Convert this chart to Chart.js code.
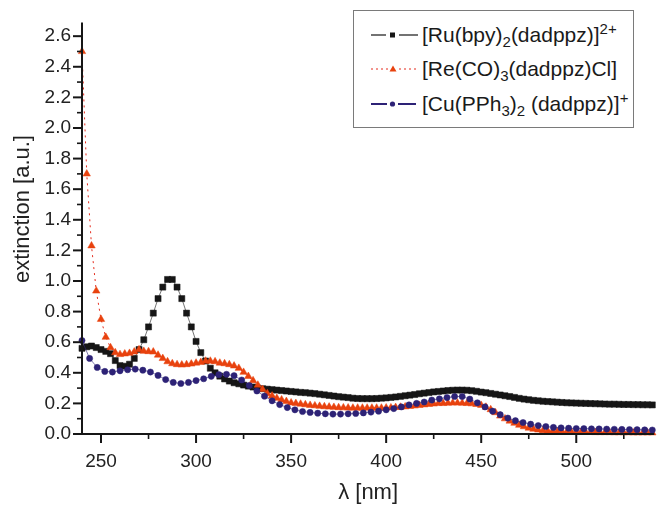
<!DOCTYPE html>
<html>
<head>
<meta charset="utf-8">
<title>extinction spectra</title>
<script src="https://cdn.jsdelivr.net/npm/chart.js@4.4.0/dist/chart.umd.min.js"></script>
<style>
    body { margin: 0; background: #fff; }
    #wrap { position: relative; width: 659px; height: 506px; }
    #legend {
        position: absolute; left: 353px; top: 10px; width: 279px; height: 116px;
        border: 1px solid #7a7a7a; background: #fff;
        font-family: "Liberation Sans", Arial, sans-serif; font-size: 21px; color: #1a1a1a;
    }
    .row { position: absolute; left: 0; width: 100%; height: 30px; }
    .row svg { position: absolute; left: 12px; top: 0; }
    .row .lbl { position: absolute; left: 68px; top: 0; line-height: 30px; white-space: nowrap; }
    sub, sup { font-size: 15px; line-height: 0; }
</style>
</head>
<body>
<div id="wrap">
    <canvas id="chart" width="659" height="506"></canvas>
    <div id="legend">
        <div class="row" style="top:9px">
            <svg width="56" height="30"><line x1="5" y1="15" x2="20" y2="15" stroke="#161616" stroke-width="1.2"/><line x1="33" y1="15" x2="52" y2="15" stroke="#161616" stroke-width="1.2"/><rect x="24" y="12.5" width="5" height="5" fill="#161616"/></svg>
            <span class="lbl">[Ru(bpy)<sub>2</sub>(dadppz)]<sup>2+</sup></span>
        </div>
        <div class="row" style="top:43px">
            <svg width="56" height="30"><line x1="5" y1="15" x2="22" y2="15" stroke="#e52b1c" stroke-width="1.2" stroke-dasharray="2,3"/><line x1="33" y1="15" x2="52" y2="15" stroke="#e52b1c" stroke-width="1.2" stroke-dasharray="2,3"/><polygon points="27,11.5 30.5,17.5 23.5,17.5" fill="#e8420e"/></svg>
            <span class="lbl">[Re(CO)<sub>3</sub>(dadppz)Cl]</span>
        </div>
        <div class="row" style="top:78px">
            <svg width="56" height="30"><line x1="5" y1="15" x2="21" y2="15" stroke="#2d2276" stroke-width="2"/><line x1="32" y1="15" x2="50" y2="15" stroke="#2d2276" stroke-width="2"/><circle cx="26.5" cy="15" r="2.6" fill="#2d2276"/></svg>
            <span class="lbl">[Cu(PPh<sub>3</sub>)<sub>2</sub> (dadppz)]<sup>+</sup></span>
        </div>
    </div>
</div>
<script>
// wavelength grid of the Ru and Re spectra (nm)
const lambdaFine = [240, 242.5, 245, 247.5, 250, 252.5, 255, 257.5, 260, 262.5,
    265, 267.5, 270, 272.5, 275, 277.5, 280, 282.5, 285, 287.5,
    290, 292.5, 295, 297.5, 300, 302.5, 305, 307.5, 310, 312.5,
    315, 317.5, 320, 322.5, 325, 327.5, 330, 332.5, 335, 337.5,
    340, 342.5, 345, 347.5, 350, 352.5, 355, 357.5, 360, 362.5,
    365, 367.5, 370, 372.5, 375, 377.5, 380, 382.5, 385, 387.5,
    390, 392.5, 395, 397.5, 400, 402.5, 405, 407.5, 410, 412.5,
    415, 417.5, 420, 422.5, 425, 427.5, 430, 432.5, 435, 437.5,
    440, 442.5, 445, 447.5, 450, 452.5, 455, 457.5, 460, 462.5,
    465, 467.5, 470, 472.5, 475, 477.5, 480, 482.5, 485, 487.5,
    490, 492.5, 495, 497.5, 500, 502.5, 505, 507.5, 510, 512.5,
    515, 517.5, 520, 522.5, 525, 527.5, 530, 532.5, 535, 537.5, 540];

const ruValues = [0.56, 0.57, 0.575, 0.565, 0.552, 0.54, 0.525, 0.48, 0.447, 0.443,
    0.456, 0.494, 0.552, 0.616, 0.70, 0.79, 0.885, 0.96, 1.01, 1.01,
    0.96, 0.885, 0.79, 0.70, 0.605, 0.532, 0.477, 0.43, 0.40, 0.378,
    0.36, 0.346, 0.335, 0.328, 0.32, 0.313, 0.307, 0.30, 0.296, 0.293,
    0.29, 0.287, 0.284, 0.281, 0.278, 0.275, 0.272, 0.27, 0.267, 0.264,
    0.26, 0.256, 0.252, 0.248, 0.244, 0.241, 0.238, 0.234, 0.232, 0.231,
    0.231, 0.231, 0.232, 0.234, 0.236, 0.239, 0.242, 0.246, 0.25, 0.254,
    0.258, 0.263, 0.267, 0.271, 0.275, 0.278, 0.281, 0.284, 0.286, 0.287,
    0.287, 0.286, 0.283, 0.279, 0.274, 0.27, 0.265, 0.26, 0.255, 0.25,
    0.245, 0.239, 0.233, 0.228, 0.224, 0.22, 0.217, 0.214, 0.212, 0.21,
    0.208, 0.206, 0.204, 0.203, 0.202, 0.201, 0.2, 0.199, 0.198, 0.197,
    0.196, 0.195, 0.195, 0.194, 0.193, 0.193, 0.192, 0.192, 0.191, 0.191, 0.19];

const reValues = [2.50, 1.70, 1.23, 0.935, 0.75, 0.633, 0.565, 0.532, 0.52, 0.524,
    0.528, 0.537, 0.552, 0.541, 0.539, 0.537, 0.516, 0.494, 0.473, 0.46,
    0.454, 0.452, 0.454, 0.458, 0.464, 0.468, 0.477, 0.477, 0.473, 0.464,
    0.46, 0.454, 0.445, 0.43, 0.404, 0.377, 0.349, 0.32, 0.292, 0.264,
    0.249, 0.234, 0.224, 0.213, 0.204, 0.2, 0.196, 0.192, 0.188, 0.185,
    0.182, 0.179, 0.177, 0.175, 0.173, 0.172, 0.171, 0.17, 0.17, 0.17,
    0.17, 0.17, 0.17, 0.17, 0.171, 0.172, 0.174, 0.176, 0.178, 0.181,
    0.184, 0.188, 0.191, 0.194, 0.197, 0.2, 0.2, 0.202, 0.203, 0.203,
    0.202, 0.2, 0.198, 0.194, 0.188, 0.176, 0.16, 0.14, 0.118, 0.1,
    0.085, 0.071, 0.058, 0.048, 0.039, 0.032, 0.027, 0.023, 0.02, 0.018,
    0.016, 0.015, 0.014, 0.013, 0.012, 0.012, 0.011, 0.011, 0.01, 0.01,
    0.01, 0.01, 0.009, 0.009, 0.009, 0.009, 0.008, 0.008, 0.008, 0.008, 0.008];

// Cu spectrum is sampled every 4 nm
const lambdaCu = [240, 244, 248, 252, 256, 260, 264, 268, 272, 276,
    280, 284, 288, 292, 296, 300, 304, 308, 312, 316,
    320, 324, 328, 332, 336, 340, 344, 348, 352, 356,
    360, 364, 368, 372, 376, 380, 384, 388, 392, 396,
    400, 404, 408, 412, 416, 420, 424, 428, 432, 436,
    440, 444, 448, 452, 456, 460, 464, 468, 472, 476,
    480, 484, 488, 492, 496, 500, 504, 508, 512, 516,
    520, 524, 528, 532, 536, 540];

const cuValues = [0.611, 0.494, 0.435, 0.409, 0.405, 0.413, 0.42, 0.424, 0.417, 0.405,
    0.383, 0.356, 0.337, 0.33, 0.337, 0.349, 0.361, 0.377, 0.388, 0.39,
    0.381, 0.353, 0.317, 0.281, 0.247, 0.217, 0.192, 0.173, 0.158, 0.147,
    0.141, 0.136, 0.132, 0.13, 0.13, 0.132, 0.134, 0.138, 0.143, 0.149,
    0.158, 0.166, 0.177, 0.19, 0.2, 0.209, 0.222, 0.23, 0.238, 0.245,
    0.245, 0.228, 0.204, 0.177, 0.149, 0.126, 0.104, 0.087, 0.075, 0.064,
    0.055, 0.049, 0.043, 0.04, 0.038, 0.036, 0.035, 0.034, 0.033, 0.032,
    0.031, 0.03, 0.029, 0.028, 0.027, 0.026];

const xTicks = [250, 275, 300, 325, 350, 375, 400, 425, 450, 475, 500, 525];
const yTicks = [0, 0.1, 0.2, 0.3, 0.4, 0.5, 0.6, 0.7, 0.8, 0.9, 1.0, 1.1, 1.2, 1.3,
    1.4, 1.5, 1.6, 1.7, 1.8, 1.9, 2.0, 2.1, 2.2, 2.3, 2.4, 2.5, 2.6];

const yTitle = 'extinction [a.u.]';

const AXIS_COLOR = '#161616';
const FONT = "'Liberation Sans', Arial, sans-serif";

function toPoints(xs, ys) {
    return xs.map((x, i) => ({ x: x, y: ys[i] }));
}

// axis lines, outward major / minor tick marks and the y title
const axisPlugin = {
    id: 'axisPlugin',
    afterDraw(chart) {
        const ctx = chart.ctx;
        const area = chart.chartArea;
        const xs = chart.scales.x;
        const ys = chart.scales.y;
        ctx.save();
        ctx.strokeStyle = AXIS_COLOR;
        xTicks.forEach(v => {
            const px = xs.getPixelForValue(v);
            const major = v % 50 === 0;
            ctx.lineWidth = major ? 2 : 1.6;
            ctx.beginPath();
            ctx.moveTo(px, area.bottom);
            ctx.lineTo(px, area.bottom + (major ? 9 : 5));
            ctx.stroke();
        });
        yTicks.forEach(v => {
            const py = ys.getPixelForValue(v);
            const major = Math.round(v * 10) % 2 === 0;
            ctx.lineWidth = major ? 2 : 1.6;
            ctx.beginPath();
            ctx.moveTo(area.left, py);
            ctx.lineTo(area.left - (major ? 9 : 5), py);
            ctx.stroke();
        });
        ctx.lineWidth = 2;
        ctx.beginPath();
        ctx.moveTo(area.left, area.top);
        ctx.lineTo(area.left, area.bottom + 1);
        ctx.moveTo(area.left - 1, area.bottom);
        ctx.lineTo(area.right, area.bottom);
        ctx.stroke();

        // rotated y title, sitting a bit above the centre of the axis like the original
        ctx.translate(23, 209);
        ctx.rotate(-Math.PI / 2);
        ctx.font = '22px ' + FONT;
        ctx.fillStyle = '#222';
        ctx.textAlign = 'center';
        ctx.textBaseline = 'middle';
        ctx.fillText(yTitle, 0, 0);
        ctx.restore();
    }
};

Chart.defaults.font.family = FONT;
Chart.defaults.color = '#222';

const ctx = document.getElementById('chart').getContext('2d');
new Chart(ctx, {
    type: 'line',
    data: {
        datasets: [
            {
                label: '[Ru(bpy)2(dadppz)]2+',
                data: toPoints(lambdaFine, ruValues),
                borderColor: '#161616',
                borderWidth: 0.6,
                pointStyle: 'rect',
                pointRadius: 4.3,
                pointBackgroundColor: '#161616',
                pointBorderColor: '#161616',
                pointBorderWidth: 0.5,
                order: 3
            },
            {
                label: '[Re(CO)3(dadppz)Cl]',
                data: toPoints(lambdaFine, reValues),
                borderColor: '#e52b1c',
                borderWidth: 1,
                borderDash: [2, 4],
                pointStyle: 'triangle',
                pointRadius: 4.3,
                pointBackgroundColor: '#e8420e',
                pointBorderColor: '#e8420e',
                pointBorderWidth: 0.5,
                order: 2
            },
            {
                label: '[Cu(PPh3)2(dadppz)]+',
                data: toPoints(lambdaCu, cuValues),
                borderColor: '#2d2276',
                borderWidth: 0.6,
                pointStyle: 'circle',
                pointRadius: 3.1,
                pointBackgroundColor: '#2d2276',
                pointBorderColor: '#2d2276',
                pointBorderWidth: 0.5,
                order: 1
            }
        ]
    },
    options: {
        responsive: false,
        animation: false,
        layout: { padding: { left: 0, right: 2, top: 13, bottom: 0 } },
        elements: { line: { tension: 0 } },
        datasets: { line: { clip: false } },
        plugins: {
            legend: { display: false },
            tooltip: { enabled: false }
        },
        scales: {
            x: {
                type: 'linear',
                min: 240,
                max: 541,
                grid: { display: false, drawTicks: false },
                border: { display: false },
                afterBuildTicks: scale => { scale.ticks = xTicks.map(v => ({ value: v })); },
                afterFit: scale => { scale.height = 72; },
                ticks: {
                    autoSkip: false,
                    maxRotation: 0,
                    padding: 16,
                    font: { size: 19 },
                    callback: v => (v % 50 === 0 ? String(v) : '')
                },
                title: {
                    display: true,
                    text: 'λ [nm]',
                    font: { size: 22 },
                    color: '#222',
                    padding: { top: 1, bottom: 0 }
                }
            },
            y: {
                min: 0,
                max: 2.69,
                grid: { display: false, drawTicks: false },
                border: { display: false },
                afterBuildTicks: scale => { scale.ticks = yTicks.map(v => ({ value: v })); },
                afterFit: scale => { scale.width = 82; },
                ticks: {
                    autoSkip: false,
                    padding: 11,
                    font: { size: 19 },
                    callback: v => (Math.round(v * 10) % 2 === 0 ? v.toFixed(1) : '')
                },
                title: { display: false }
            }
        }
    },
    plugins: [axisPlugin]
});
</script>
</body>
</html>
